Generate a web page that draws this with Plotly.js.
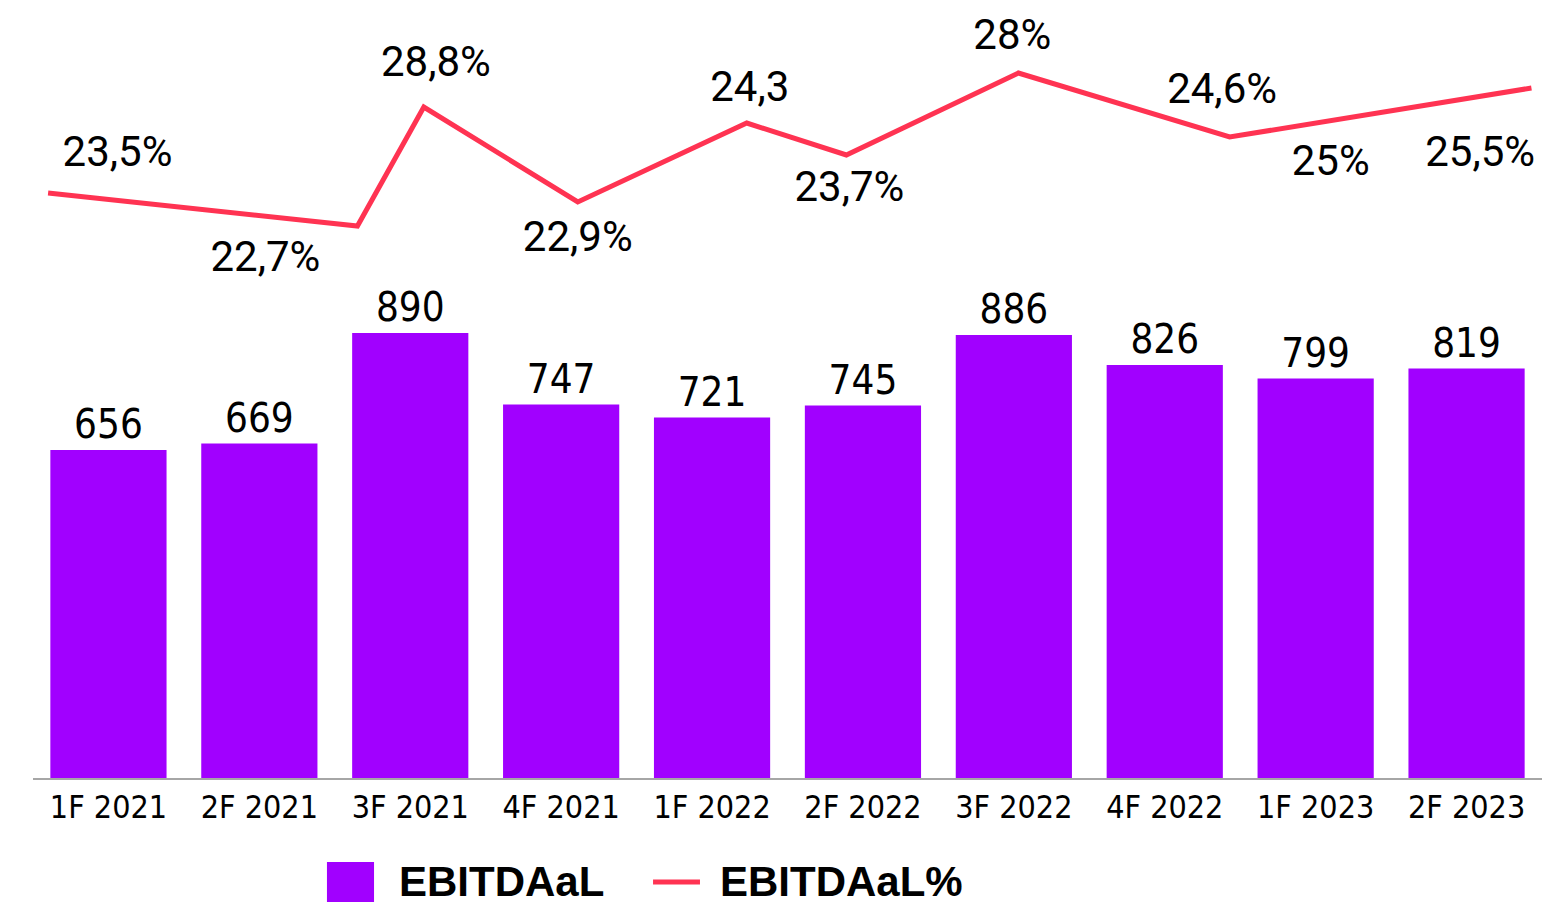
<!DOCTYPE html>
<html>
<head>
<meta charset="utf-8">
<script src="https://cdn.plot.ly/plotly-3.0.1.min.js"></script>
<style>html,body{margin:0;padding:0;background:#fff;}#chart{width:1549px;height:905px;}</style>
</head>
<body>
<div id="chart"></div>
<script>
// Categories and bar values (EBITDAaL)
const categories = ["1F 2021","2F 2021","3F 2021","4F 2021","1F 2022","2F 2022","3F 2022","4F 2022","1F 2023","2F 2023"];
const ebitdaal = [656, 669, 890, 747, 721, 745, 886, 826, 799, 819];

// EBITDAaL% line as drawn (vertex positions in category-index units, values on the secondary scale)
const lineX = [-0.4, 1.65, 2.09, 3.11, 4.23, 4.89, 6.03, 7.43, 9.43];
const lineY = [22.65, 21.0, 26.95, 22.2, 26.15, 24.55, 28.65, 25.45, 27.9];

// EBITDAaL% data labels (text, position in category-index units, level on the secondary scale)
const marginLabels = ["23,5%","22,7%","28,8%","22,9%","24,3","23,7%","28%","24,6%","25%","25,5%"];
const labelX = [0.06, 1.04, 2.17, 3.11, 4.25, 4.91, 5.99, 7.38, 8.10, 9.09];
const labelY = [24.55, 19.3, 29.05, 20.3, 27.8, 22.8, 30.4, 27.7, 24.1, 24.55];

const PURPLE = "#A100FF";
const RED = "#FF3352";
const narrow = "Liberation Sans Narrow, DejaVu Sans Condensed, Arial Narrow, sans-serif";

const traces = [
  {
    type: "bar",
    x: categories,
    y: ebitdaal,
    name: "EBITDAaL",
    marker: {color: PURPLE},
    text: ebitdaal.map(String),
    textposition: "outside",
    cliponaxis: false,
    textfont: {family: narrow, size: 40, color: "#000"},
    hoverinfo: "x+y"
  },
  {
    type: "scatter",
    mode: "lines",
    x: lineX,
    y: lineY,
    xaxis: "x2",
    yaxis: "y2",
    name: "EBITDAaL%",
    line: {color: RED, width: 5},
    cliponaxis: false,
    hoverinfo: "skip"
  },
  {
    type: "scatter",
    mode: "text",
    x: labelX,
    y: labelY,
    xaxis: "x2",
    yaxis: "y2",
    text: marginLabels,
    textposition: "middle center",
    textfont: {family: "Roboto, Liberation Sans, sans-serif", size: 42, color: "#000"},
    cliponaxis: false,
    showlegend: false,
    hoverinfo: "skip"
  }
];

const layout = {
  width: 1549,
  height: 905,
  margin: {l: 33, r: 7, t: 10, b: 127},
  paper_bgcolor: "#fff",
  plot_bgcolor: "#fff",
  showlegend: false,
  bargap: 0.23,
  xaxis: {
    type: "category",
    showgrid: false,
    zeroline: false,
    showline: true,
    linecolor: "#A6A6A6",
    linewidth: 2,
    ticks: "",
    tickfont: {family: narrow, size: 32, color: "#000"}
  },
  yaxis: {
    range: [0, 1536],
    visible: false,
    showgrid: false,
    zeroline: false
  },
  xaxis2: {
    type: "linear",
    overlaying: "x",
    anchor: "y2",
    range: [-0.5, 9.5],
    visible: false
  },
  yaxis2: {
    overlaying: "y",
    anchor: "x2",
    range: [-6.6, 31.8],
    visible: false
  },
  shapes: [
    {type: "rect", xref: "paper", yref: "paper", x0: 0.1948, x1: 0.226, y0: -0.1615, y1: -0.1094,
     fillcolor: PURPLE, line: {width: 0}},
    {type: "line", xref: "paper", yref: "paper", x0: 0.4109, x1: 0.4420, y0: -0.1354, y1: -0.1354,
     line: {color: RED, width: 5}}
  ],
  annotations: [
    {xref: "paper", yref: "paper", x: 0.2412, y: -0.1354, xanchor: "left", yanchor: "middle",
     text: "EBITDAaL", showarrow: false,
     font: {family: "Liberation Sans, Arial, sans-serif", size: 42, color: "#000", weight: "bold"}},
    {xref: "paper", yref: "paper", x: 0.4539, y: -0.1354, xanchor: "left", yanchor: "middle",
     text: "EBITDAaL%", showarrow: false,
     font: {family: "Liberation Sans, Arial, sans-serif", size: 42, color: "#000", weight: "bold"}}
  ]
};

Plotly.newPlot("chart", traces, layout, {displayModeBar: false, staticPlot: true});
</script>
</body>
</html>
